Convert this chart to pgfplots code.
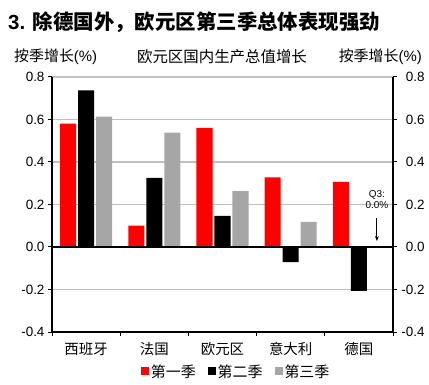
\documentclass[border=0pt]{standalone}
\usepackage{fontspec}
\setmainfont{Liberation Sans}
\newfontfamily\cjk{Noto Sans CJK SC}
\usepackage{pgfplots}
\pgfplotsset{compat=1.18}
\usetikzlibrary{arrows.meta}
\definecolor{qred}{HTML}{FF0000}
\definecolor{qgray}{HTML}{A6A6A6}
\definecolor{gridc}{HTML}{C0C0C0}
\begin{document}
\begin{tikzpicture}
\useasboundingbox (-52bp,-53bp) rectangle (377bp,332bp);
\node[anchor=west, inner sep=0] at (-44bp,310bp) {\fontsize{20.5}{22}\selectfont\bfseries 3. {\cjk 除德国外，欧元区第三季总体表现强劲}};
\node[anchor=west, inner sep=0] at (-38bp,275bp) {\fontsize{15}{16}\selectfont{\cjk 按季增长}(\%)};
\node[anchor=center, inner sep=0] at (170bp,275bp) {\cjk\fontsize{15.5}{16}\selectfont 欧元区国内生产总值增长};
\node[anchor=east, inner sep=0] at (370bp,275bp) {\fontsize{15}{16}\selectfont{\cjk 按季增长}(\%)};
\begin{axis}[
  scale only axis, width=341bp, height=255bp,
  xmin=-0.5, xmax=4.5, ymin=-0.4, ymax=0.8,
  axis x line*=bottom, axis y line*=left,
  axis line style={line width=2.5bp, black},
  xtick={0,1,2,3,4},
  xticklabels={西班牙,法国,欧元区,意大利,德国},
  xticklabel style={font=\cjk\fontsize{14.5}{15}\selectfont, yshift=-2.5bp},
  major x tick style={draw=none},
  minor xtick={-0.5,0.5,1.5,2.5,3.5,4.5},
  tick align=outside,
  major tick length=4bp, minor tick length=4bp,
  tick style={black, line width=1bp},
  ytick={-0.4,-0.2,0,0.2,0.4,0.6,0.8},
  yticklabel style={/pgf/number format/.cd, fixed, fixed zerofill, precision=1, assume math mode=true, /tikz/.cd, font=\fontsize{13.5}{14}\selectfont},
  ymajorgrids, major grid style={gridc, line width=1.5bp},
  legend image code/.code={\fill[#1] (0bp,-3bp) rectangle (8bp,5bp);},
  legend style={draw=none, at={(0.54,-0.157)}, anchor=center, legend columns=3,
    font=\cjk\fontsize{15}{16}\selectfont,
    /tikz/every even column/.append style={column sep=10bp}},
]
\addplot[ybar, bar width=0.235, bar shift=-0.264, fill=qred, draw=none] coordinates {(0,0.58) (1,0.10) (2,0.56) (3,0.328) (4,0.306)};
\addlegendentry{第一季}
\addplot[ybar, bar width=0.235, bar shift=0, fill=black, draw=none] coordinates {(0,0.737) (1,0.325) (2,0.147) (3,-0.071) (4,-0.207)};
\addlegendentry{第二季}
\addplot[ybar, bar width=0.235, bar shift=0.264, fill=qgray, draw=none] coordinates {(0,0.613) (1,0.538) (2,0.263) (3,0.118) (4,0)};
\addlegendentry{第三季}
\draw[black, line width=2bp] (axis cs:-0.5,0) -- (axis cs:4.5,0);
\node[font=\fontsize{10}{11}\selectfont, align=center, inner sep=0] at (axis cs:4.264,0.223) {Q3:\\0.0\%};
\draw[line width=1bp, -{Stealth[length=5bp,width=4bp]}] (axis cs:4.264,0.137) -- (axis cs:4.264,0.028);
\end{axis}
\begin{axis}[
  scale only axis, width=341bp, height=255bp,
  xmin=-0.5, xmax=4.5, ymin=-0.4, ymax=0.8,
  axis x line=none, axis y line*=right,
  axis line style={line width=2.5bp, black},
  tick align=outside, major tick length=4bp,
  tick style={black, line width=1bp},
  ytick={-0.4,-0.2,0,0.2,0.4,0.6,0.8},
  yticklabel style={/pgf/number format/.cd, fixed, fixed zerofill, precision=1, assume math mode=true, /tikz/.cd, font=\fontsize{13.5}{14}\selectfont, anchor=west, text width=24bp, align=right},
]
\addplot[draw=none] coordinates {(0,0)};
\end{axis}
\end{tikzpicture}
\end{document}
